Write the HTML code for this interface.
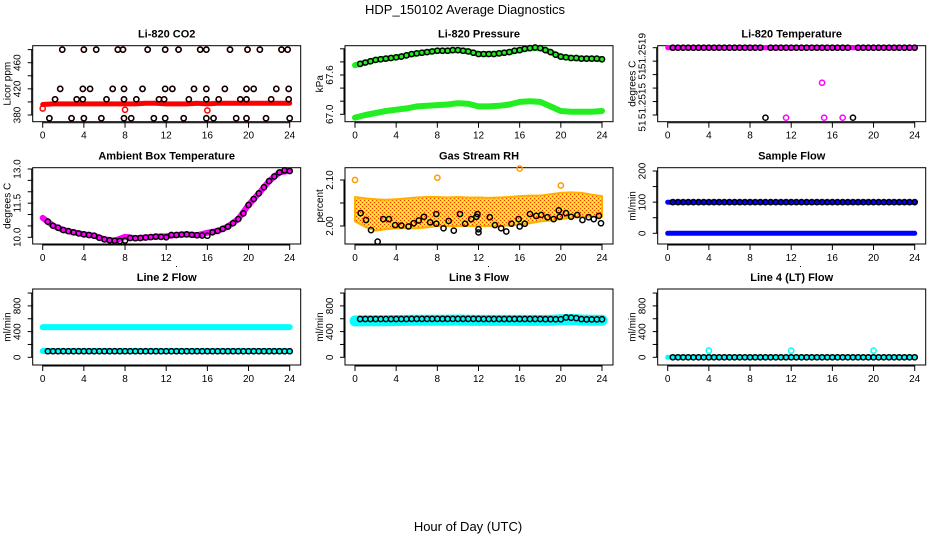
<!DOCTYPE html>
<html><head><meta charset="utf-8">
<style>
html,body{margin:0;padding:0;background:#fff;}
svg{display:block;font-family:"Liberation Sans",Arial,sans-serif;}
</style></head>
<body>
<svg id="chart" width="936" height="540" viewBox="0 0 936 540" xmlns="http://www.w3.org/2000/svg">
<defs>
<pattern id="rhpat" width="4" height="4" patternUnits="userSpaceOnUse">
<rect width="4" height="4" fill="#ffd21a"/>
<rect x="0" y="0" width="1" height="1" fill="#ff3000"/>
<rect x="2" y="2" width="1" height="1" fill="#ff3000"/>
<rect x="2" y="0" width="1" height="1" fill="#ffff40"/>
<rect x="0" y="2" width="1" height="1" fill="#ffff40"/>
</pattern>
</defs>
<text x="465" y="14" font-size="13" text-anchor="middle">HDP_150102  Average Diagnostics</text>
<text x="468" y="531" font-size="13" text-anchor="middle">Hour of Day (UTC)</text>
</svg>
<script>
// ---------- data ----------
const hours = [0,1,2,3,4,5,6,7,8,9,10,11,12,13,14,15,16,17,18,19,20,21,22,23,24];
const halfHours = [0.5,1,1.5,2,2.5,3,3.5,4,4.5,5,5.5,6,6.5,7,7.5,8,8.5,9,9.5,10,10.5,11,11.5,12,12.5,13,13.5,14,14.5,15,15.5,16,16.5,17,17.5,18,18.5,19,19.5,20,20.5,21,21.5,22,22.5,23,23.5,24];

// CO2
const co2Times = [0.65,1.2,1.7,1.9,2.8,3.3,3.9,3.9,4.0,4.0,4.6,5.2,5.7,6.2,6.8,7.3,7.8,7.9,7.9,7.9,8.6,9.1,9.7,10.2,10.8,11.3,11.8,11.9,11.9,11.9,12.6,13.2,13.7,14.2,14.7,15.3,15.9,15.9,15.9,15.9,16.6,17.1,17.7,18.2,18.8,19.2,19.8,19.8,19.8,19.9,20.5,21.1,21.7,22.2,22.7,23.2,23.8,23.9,23.9,24.0];
const co2Vals  = [375,404,420,480,375,404,404,420,480,375,420,480,375,404,420,480,480,420,404,375,375,404,420,480,375,404,404,420,480,375,420,480,375,404,420,480,480,420,404,375,375,404,420,480,375,404,420,404,375,480,420,480,375,404,420,480,480,420,404,375];
const co2Red = [396,397,397,397,397,397,397,397,397,397,398,398,397,397,397,398,397,398,398,398,398,398,398,398,398];
const co2RedOutT = [0,8,16];
const co2RedOutV = [390,388,387];

// Pressure
const presUpper = [67.75,67.79,67.83,67.85,67.87,67.90,67.93,67.95,67.97,67.97,67.98,67.96,67.92,67.92,67.93,67.95,67.98,68.01,68.01,67.95,67.88,67.86,67.85,67.85,67.84];
const presLower = [66.95,66.99,67.02,67.05,67.07,67.09,67.12,67.13,67.14,67.15,67.17,67.16,67.12,67.12,67.13,67.15,67.19,67.20,67.19,67.12,67.05,67.04,67.04,67.04,67.05];
const presBlack = [67.77,67.79,67.81,67.83,67.84,67.85,67.86,67.87,67.88,67.90,67.92,67.93,67.94,67.95,67.96,67.97,67.97,67.97,67.98,67.98,67.97,67.96,67.94,67.92,67.92,67.92,67.92,67.93,67.94,67.95,67.97,67.98,68.00,68.01,68.02,68.01,67.98,67.95,67.91,67.88,67.87,67.86,67.86,67.85,67.85,67.85,67.85,67.84];

// Li-820 temperature
const tempMag = [51.2519,51.2519,51.2519,51.2519,51.2519,51.2519,51.2519,51.2519,51.2519,51.2519,51.2519,51.2519,51.2519,51.2519,51.2519,51.2519,51.2519,51.2519,51.2519,51.2519,51.2519,51.2519,51.2519,51.2519,51.2519];
const tempMagOutT = [11.5,15.0,15.2,17.0];
const tempMagOutV = [51.25138,51.25164,51.25138,51.25138];
const tempBlack = [51.2519,51.2519,51.2519,51.2519,51.2519,51.2519,51.2519,51.2519,51.2519,51.2519,51.2519,51.2519,51.2519,51.2519,51.2519,51.2519,51.2519,51.2519,51.25138,51.2519,51.2519,51.2519,51.2519,51.2519,51.2519,51.2519,51.2519,51.2519,51.2519,51.2519,51.2519,51.2519,51.2519,51.2519,51.2519,51.25138,51.2519,51.2519,51.2519,51.2519,51.2519,51.2519,51.2519,51.2519,51.2519,51.2519,51.2519,51.2519];

// Ambient box temperature
const ambMag = [10.85,10.51,10.32,10.22,10.13,10.07,9.91,9.85,10.02,9.96,9.99,10.03,10.05,10.10,10.13,10.09,10.20,10.28,10.47,10.80,11.42,11.93,12.47,12.85,12.92];
const ambBlack = [10.69,10.51,10.42,10.32,10.27,10.22,10.17,10.13,10.10,10.07,9.98,9.91,9.87,9.85,9.84,9.86,9.97,9.96,9.97,9.99,10.01,10.03,10.02,10.00,10.10,10.10,10.12,10.13,10.11,10.09,10.08,10.07,10.22,10.28,10.37,10.47,10.62,10.80,11.05,11.42,11.68,11.93,12.20,12.47,12.67,12.85,12.94,12.91];

// Gas stream RH
const rhUpper = [2.063,2.060,2.058,2.057,2.058,2.060,2.062,2.063,2.063,2.062,2.063,2.062,2.062,2.061,2.062,2.063,2.065,2.066,2.066,2.069,2.072,2.073,2.072,2.068,2.065];
const rhLower = [2.010,1.998,1.990,1.993,1.995,1.995,1.995,1.997,2.000,2.000,2.000,2.000,2.000,2.000,2.000,2.001,2.003,2.006,2.010,2.012,2.015,2.018,2.020,2.020,2.020];
const rhOutT = [0,8,16,20];
const rhOutV = [2.100,2.105,2.125,2.088];
const rhTimes = [0.55,1.07,1.56,2.2,2.75,3.3,3.9,4.5,5.2,5.7,6.2,6.7,7.3,7.9,7.9,8.6,9.1,9.6,10.2,10.7,11.3,11.8,11.9,12.0,12.0,13.1,13.6,14.2,14.7,15.2,15.9,16.0,16.5,17.0,17.6,18.1,18.7,19.3,19.8,19.9,20.5,21.0,21.6,22.1,22.7,23.2,23.7,23.9];
const rhVals  = [2.028,2.013,1.991,1.966,2.015,2.015,2.002,2.001,1.999,2.006,2.012,2.020,2.008,2.005,2.026,1.995,2.011,1.990,2.026,2.005,2.015,2.020,2.026,1.986,1.993,2.019,2.002,1.995,1.988,2.005,2.015,1.999,2.005,2.026,2.022,2.024,2.019,2.015,2.034,2.020,2.028,2.020,2.024,2.013,2.019,2.015,2.022,2.006];

// Sample flow
const sampleBlueHi = [100,100,100,100,100,100,100,100,100,100,100,100,100,100,100,100,100,100,100,100,100,100,100,100,100];
const sampleBlueLo = [0,0,0,0,0,0,0,0,0,0,0,0,0,0,0,0,0,0,0,0,0,0,0,0,0];
const sampleBlack = [100,100,100,100,100,100,100,100,100,100,100,100,100,100,100,100,100,100,100,100,100,100,100,100,100,100,100,100,100,100,100,100,100,100,100,100,100,100,100,100,100,100,100,100,100,100,100,100];

// Line 2 flow
const line2CyanHi = [470,470,470,470,470,470,470,470,470,470,470,470,470,470,470,470,470,470,470,470,470,470,470,470,470];
const line2CyanLo = [98,98,98,98,98,98,98,98,98,98,98,98,98,98,98,98,98,98,98,98,98,98,98,98,98];
const line2Black = [95,95,95,95,95,95,95,95,95,95,95,95,95,95,95,95,95,95,95,95,95,95,95,95,95,95,95,95,95,95,95,95,95,95,95,95,95,95,95,95,95,95,95,95,95,95,95,95];

// Line 3 flow
const line3Cyan = [565,570,570,570,572,575,578,578,578,578,580,578,575,575,575,575,575,575,575,575,585,590,580,578,578];
const line3Black = [596,596,596,596,596,596,596,596,596,596,598,598,598,598,598,598,598,598,598,598,598,598,598,598,596,596,596,596,596,596,596,596,596,596,596,596,594,594,592,592,620,615,610,595,590,590,590,592];

// Line 4 flow
const line4Cyan = [0,0,0,0,0,0,0,0,0,0,0,0,0,0,0,0,0,0,0,0,0,0,0,0,0];
const line4CyanOutT = [4,12,20];
const line4CyanOutV = [104,104,104];
const line4Black = [0,0,0,0,0,0,0,0,0,0,0,0,0,0,0,0,0,0,0,0,0,0,0,0,0,0,0,0,0,0,0,0,0,0,0,0,0,0,0,0,0,0,0,0,0,0,0,0];

const xTicks = [0,4,8,12,16,20,24];

// ---------- drawing ----------
const svg = document.getElementById('chart');
const NS = 'http://www.w3.org/2000/svg';
const colX0 = [42.7, 355, 667.7];
const rowTop = [45.7, 167.7, 289];
const rowBot = [121.7, 244, 365];
const PX_PER_HOUR = 247/24;

function mk(tag, attrs, parent) {
  const el = document.createElementNS(NS, tag);
  for (const k in attrs) el.setAttribute(k, attrs[k]);
  (parent || svg).appendChild(el);
  return el;
}

function makePanel(p) {
  const g = mk('g', {});
  
  
  const x0 = colX0[p.col], top = rowTop[p.row], bot = rowBot[p.row];
  const left = x0 - 10, right = x0 + 258;
  p.xs = t => x0 + t * PX_PER_HOUR;
  p.ys = v => p.py1 + (v - p.v1) * (p.py2 - p.py1) / (p.v2 - p.v1);
  p.g = g;
  const box = mk('rect', {x:left, y:top, width:right-left, height:bot-top, fill:'none', stroke:'#000', 'stroke-width':1}, g);
  
  
  const title = mk('text', {x:(left+right)/2, y:top-8, 'font-size':11, 'font-weight':'bold', 'text-anchor':'middle'}, g);
  title.textContent = p.title;
  
  
  const xa = mk('g', {}, g);
  
  
  mk('line', {x1:p.xs(0), x2:p.xs(24), y1:bot+1, y2:bot+1, stroke:'#000'}, xa);
  xTicks.forEach(t => {
    mk('line', {x1:p.xs(t), x2:p.xs(t), y1:bot, y2:bot+6, stroke:'#000'}, xa);
    const lab = mk('text', {x:p.xs(t), y:bot+17, 'font-size':10, 'text-anchor':'middle'}, xa);
    lab.textContent = t;
    
    
  });
  const ya = mk('g', {}, g);
  
  
  mk('line', {x1:left-1, x2:left-1, y1:p.ys(p.ticks[0]), y2:p.ys(p.ticks[p.ticks.length-1]), stroke:'#000'}, ya);
  p.ticks.forEach(v => {
    mk('line', {x1:left-5, x2:left, y1:p.ys(v), y2:p.ys(v), stroke:'#000'}, ya);
  });
  p.labels.forEach((l, i) => {
    const y = p.labelY ? p.labelY[i] : p.ys(l);
    const lab = mk('text', {x:left-12, y:y, 'font-size':10, 'text-anchor':'middle', transform:'rotate(-90 '+(left-12)+' '+y+')'}, ya);
    lab.textContent = p.labelText ? p.labelText[i] : l;
    
    
  });
  const cy = (top+bot)/2;
  const yl = mk('text', {x:left-22, y:cy, 'font-size':10, 'text-anchor':'middle', transform:'rotate(-90 '+(left-22)+' '+cy+')'}, g);
  yl.textContent = p.ylabel;
  
  
  return p;
}

function band(p, times, vals, color, w, name) {
  const pts = times.map((t,i) => p.xs(t).toFixed(1)+','+p.ys(vals[i]).toFixed(1)).join(' ');
  const pl = mk('polyline', {points:pts, fill:'none', stroke:color, 'stroke-width':w, 'stroke-linejoin':'round', 'stroke-linecap':'round'}, p.g);
  
  
}
function area(p, times, lo, hi, fill, name) {
  const a = times.map((t,i) => p.xs(t).toFixed(1)+','+p.ys(hi[i]).toFixed(1));
  const b = times.slice().reverse().map((t,j) => { const i = times.length-1-j; return p.xs(t).toFixed(1)+','+p.ys(lo[i]).toFixed(1); });
  const pg = mk('polygon', {points:a.concat(b).join(' '), fill:fill, stroke:'#ffb000', 'stroke-width':2, 'stroke-linejoin':'round'}, p.g);
  
  
}
function points(p, times, vals, color, name) {
  times.forEach((t,i) => {
    const c = mk('circle', {cx:p.xs(t), cy:p.ys(vals[i]), r:2.6, fill:'none', stroke:color, 'stroke-width':1.5}, p.g);
    
    
  });
}

const pCO2 = makePanel({name:'co2', col:0, row:0, title:'Li-820 CO2', ylabel:'Licor ppm', v1:380, py1:115, v2:460, py2:62.7, ticks:[380,400,420,440,460,480], labels:[380,420,460]});
band(pCO2, hours, co2Red, '#ff0000', 5, 'co2-red-series');
points(pCO2, co2RedOutT, co2RedOutV, '#ff0000', 'co2-red-point');
points(pCO2, co2Times, co2Vals, '#ff0000', 'co2-red-point');
points(pCO2, co2Times, co2Vals, '#000000', 'co2-black-point');

const pPres = makePanel({name:'pressure', col:1, row:0, title:'Li-820 Pressure', ylabel:'kPa', v1:67.0, py1:114.3, v2:67.6, py2:75, ticks:[67.0,67.2,67.4,67.6,67.8,68.0], labels:[67.0,67.6], labelText:['67.0','67.6']});
band(pPres, hours, presLower, '#22ee22', 6, 'pressure-lower-green-series');
band(pPres, hours, presUpper, '#22ee22', 6, 'pressure-upper-green-series');
points(pPres, halfHours, presBlack, '#000000', 'pressure-black-point');

const pTemp = makePanel({name:'li820-temp', col:2, row:0, title:'Li-820 Temperature', ylabel:'degrees C', v1:51.2514, py1:115, v2:51.2519, py2:47.7, ticks:[51.2514,51.2515,51.2516,51.2517,51.2518,51.2519], labels:[0,1,2,3], labelY:[51,74,101,126], labelText:['51.2519','51','51.2515','51']});
band(pTemp, hours, tempMag, '#ff00ff', 5, 'li820-temp-magenta-series');
points(pTemp, tempMagOutT, tempMagOutV, '#ff00ff', 'li820-temp-magenta-point');
points(pTemp, halfHours, tempBlack, '#000000', 'li820-temp-black-point');

const pAmb = makePanel({name:'ambient', col:0, row:1, title:'Ambient Box Temperature', ylabel:'degrees C', v1:10, py1:237.3, v2:13, py2:169, ticks:[10,10.5,11,11.5,12,12.5,13], labels:[10,11.5,13], labelText:['10.0','11.5','13.0']});
band(pAmb, hours, ambMag, '#ff00ff', 6, 'ambient-magenta-series');
points(pAmb, halfHours, ambBlack, '#000000', 'ambient-black-point');

const pRH = makePanel({name:'rh', col:1, row:1, title:'Gas Stream RH', ylabel:'percent', v1:2.0, py1:226, v2:2.1, py2:180, ticks:[2.0,2.05,2.1], labels:[2.0,2.1], labelText:['2.00','2.10']});
area(pRH, hours, rhLower, rhUpper, 'url(#rhpat)', 'rh-orange-cloud');
points(pRH, rhOutT, rhOutV, '#ff9a00', 'rh-orange-point');
points(pRH, rhTimes, rhVals, '#000000', 'rh-black-point');

const pSample = makePanel({name:'sample-flow', col:2, row:1, title:'Sample Flow', ylabel:'ml/min', v1:0, py1:233.3, v2:200, py2:171, ticks:[0,50,100,150,200], labels:[0,100,200]});
band(pSample, hours, sampleBlueHi, '#0000ff', 5, 'sample-flow-blue-high');
band(pSample, hours, sampleBlueLo, '#0000ff', 5, 'sample-flow-blue-low');
points(pSample, halfHours, sampleBlack, '#000000', 'sample-flow-black-point');

const pL2 = makePanel({name:'line2-flow', col:0, row:2, title:'Line 2 Flow', ylabel:'ml/min', v1:0, py1:357.3, v2:800, py2:305.9, ticks:[0,200,400,600,800,1000], labels:[0,400,800]});
band(pL2, hours, line2CyanHi, '#00ffff', 6, 'line2-cyan-high');
band(pL2, hours, line2CyanLo, '#00ffff', 6, 'line2-cyan-low');
points(pL2, halfHours, line2Black, '#000000', 'line2-black-point');

const pL3 = makePanel({name:'line3-flow', col:1, row:2, title:'Line 3 Flow', ylabel:'ml/min', v1:0, py1:357.3, v2:800, py2:305.9, ticks:[0,200,400,600,800,1000], labels:[0,400,800]});
band(pL3, hours, line3Cyan, '#00ffff', 11, 'line3-cyan-series');
points(pL3, halfHours, line3Black, '#000000', 'line3-black-point');

const pL4 = makePanel({name:'line4-flow', col:2, row:2, title:'Line 4 (LT) Flow', ylabel:'ml/min', v1:0, py1:357.3, v2:800, py2:305.9, ticks:[0,200,400,600,800,1000], labels:[0,400,800]});
band(pL4, hours, line4Cyan, '#00ffff', 5, 'line4-cyan-series');
points(pL4, line4CyanOutT, line4CyanOutV, '#00ffff', 'line4-cyan-point');
points(pL4, halfHours, line4Black, '#000000', 'line4-black-point');

[176, 488, 800].forEach(x => {
  const d = mk('rect', {x:x, y:266, width:1, height:1, fill:'#000'});
  
  
});
</script>
</body></html>
